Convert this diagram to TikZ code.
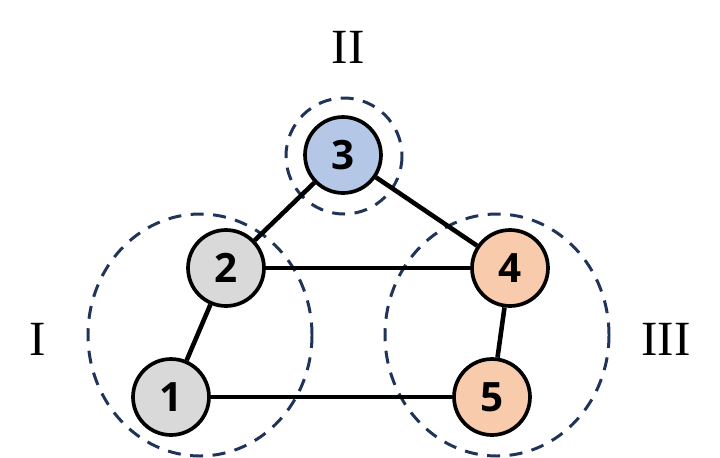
\documentclass[tikz,border=0pt]{standalone}
\usepackage{fontspec}
\setmainfont{Liberation Serif}
\newfontfamily\numfont{Open Sans}
\definecolor{grpline}{HTML}{1F3458}
\definecolor{grayfill}{HTML}{D9D9D9}
\definecolor{bluefill}{HTML}{B4C7E7}
\definecolor{peachfill}{HTML}{F8CBAD}
\begin{document}
\begin{tikzpicture}[x=0.02cm, y=-0.02cm]

      \tikzset{vertex/.style={draw, circle, line width=2.1pt, inner sep=0pt, minimum size=1.52cm, font=\numfont\bfseries\fontsize{23}{23}\selectfont},
               group/.style={draw=grpline, line width=1.7pt, dash pattern=on 0.26cm off 0.19cm},
               grplabel/.style={font=\fontsize{28}{28}\selectfont}}
      \useasboundingbox (0,0) rectangle (720,457);
%% Groups
      	\draw[group] (200,335) ellipse [x radius=112, y radius=121];
      	\draw[group] (344,156) circle [radius=58];
      	\draw[group] (497,335) ellipse [x radius=112, y radius=121];
      	\node[grplabel] (gI) at (38,339) {I};
      	\node[grplabel] (gII) at (348,47) {II};
      	\node[grplabel] (gIII) at (666,339) {III};
%% Vertices
      	\node[vertex, fill=grayfill] (v1) at (171,397) {1};
      	\node[vertex, fill=grayfill] (v2) at (226,268) {2};
      	\node[vertex, fill=bluefill] (v3) at (343,155) {3};
      	\node[vertex, fill=peachfill] (v4) at (510,268) {4};
      	\node[vertex, fill=peachfill] (v5) at (492,397) {5};
%Edges
		\draw[line width=2.6pt] (v3) -- (v2);
		\draw[line width=2.6pt] (v3) -- (v4);
		\draw[line width=2.6pt] (v2) -- (v4);
		\draw[line width=2.6pt] (v2) -- (v1);
		\draw[line width=2.6pt] (v4) -- (v5);
		\draw[line width=2.6pt] (v1) -- (v5);
	\end{tikzpicture}
\end{document}
